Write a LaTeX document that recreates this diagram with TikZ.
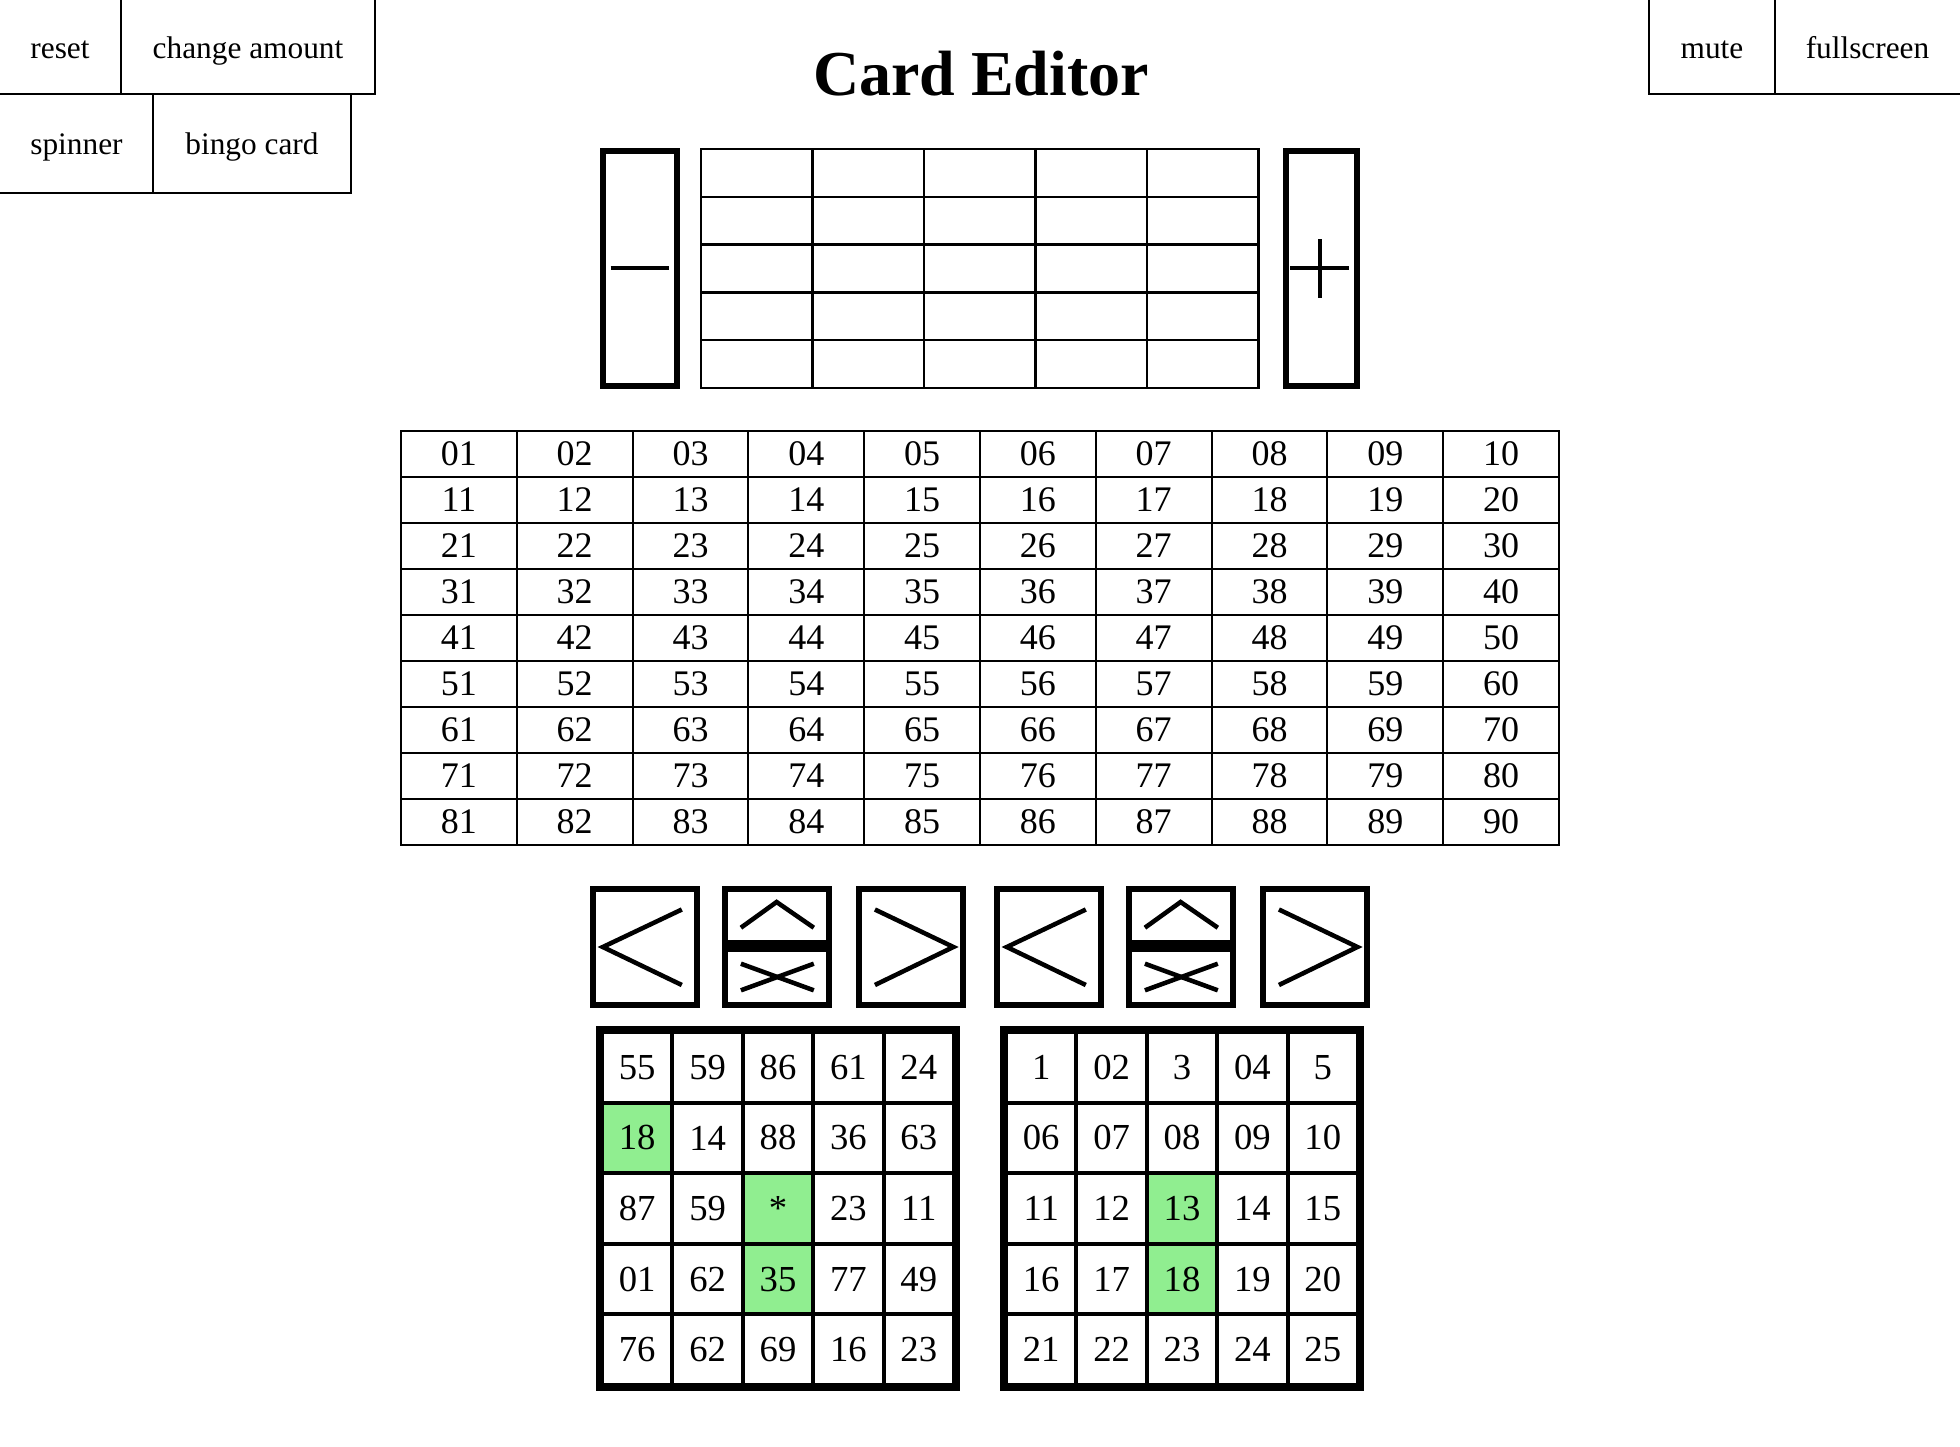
\documentclass[tikz,border=0pt]{standalone}
\usepackage{fontspec}
\setmainfont{Liberation Serif}
\usetikzlibrary{calc}
\definecolor{cellgreen}{HTML}{90EE90}
\tikzset{
    btnline/.style={line width=1.5pt},
    btnlabel/.style={anchor=base, inner sep=0pt, font=\fontsize{23.5pt}{28pt}\selectfont},
    numcell/.style={draw, line width=1.5pt, inner sep=0pt, minimum width=86.85pt, minimum height=34.5pt, font=\fontsize{27pt}{32pt}\selectfont},
    cardtext/.style={inner sep=0pt, font=\fontsize{27.5pt}{32pt}\selectfont},
    thickbox/.style={line width=4.5pt},
    sign/.style={line width=3.4pt}
}

\begin{document}
\begin{tikzpicture}[x=0.75pt,y=-0.75pt]
            \useasboundingbox (0,0) rectangle (1960,1446);
            % top buttons
            \draw[btnline] (-3,-3) rectangle (121,94);
            \draw[btnline] (121,-3) rectangle (375,94);
            \draw[btnline] (-3,94) rectangle (153,193);
            \draw[btnline] (153,94) rectangle (351,193);
            \draw[btnline] (1649,-3) rectangle (1775,94);
            \draw[btnline] (1775,-3) rectangle (1963,94);
            \node[btnlabel] (reset) at (60,58) {reset};
            \node[btnlabel] (amount) at (248,58) {change amount};
            \node[btnlabel] (spinner) at (76.5,154) {spinner};
            \node[btnlabel] (bingo) at (252,154) {bingo card};
            \node[btnlabel] (mute) at (1712,58) {mute};
            \node[btnlabel] (full) at (1867.5,58) {fullscreen};
            \node[anchor=base, inner sep=0pt, font=\fontsize{48pt}{56pt}\selectfont\bfseries] (title) at (981,95) {Card Editor};
            % minus, layout grid, plus
            \draw[thickbox] (603.4,151.3) rectangle (676.5,386);
            \draw[sign] (610.6,268) -- (669.3,268);
            \foreach \r in {0,...,4}
                \foreach \c in {0,...,4}
                    \draw[line width=1.8pt] (701+\c*111.5,149+\r*47.8) rectangle ++(111.5,47.8);
            \draw[thickbox] (1285.6,151.3) rectangle (1356.6,386);
            \draw[sign] (1290,268) -- (1349.4,268);
            \draw[sign, line width=3pt] (1319.8,239) -- (1319.8,298);
            % numbers 01 to 90
            \foreach \r in {0,...,8}
                \foreach \c in {0,...,9} {
                    \pgfmathtruncatemacro{\v}{\r*10+\c+1}
                    \node[numcell] (n\v) at (401+\c*115.8+57.9,431+\r*46+23) {\ifnum\v<10 0\fi\v};
                }
            % arrow buttons
            \foreach \x/\kind in {590/l,722/m,856/r,994/l,1126/m,1260/r} {
                \coordinate (b\x) at (\x,886);
                \draw[thickbox] ($(b\x)+(3,3)$) rectangle ($(b\x)+(107,119)$);
                \if l\kind
                    \draw[sign] ($(b\x)+(91.8,23.5)$) -- ($(b\x)+(12.8,61)$) -- ($(b\x)+(91.8,99)$);
                \fi
                \if r\kind
                    \draw[sign] ($(b\x)+(18.9,23.5)$) -- ($(b\x)+(97.4,61)$) -- ($(b\x)+(18.9,99)$);
                \fi
                \if m\kind
                    \draw[sign] ($(b\x)+(18.9,41.7)$) -- ($(b\x)+(54.6,16)$) -- ($(b\x)+(91.8,41.7)$);
                    \fill ($(b\x)+(0,54)$) rectangle ($(b\x)+(110,66)$);
                    \draw[sign] ($(b\x)+(18.9,77.7)$) -- ($(b\x)+(91.8,104.3)$);
                    \draw[sign] ($(b\x)+(18.9,104.3)$) -- ($(b\x)+(91.8,77.7)$);
                \fi
            }
            % bingo cards
            \fill (596,1026) rectangle (960,1391);
            \fill (1000,1026) rectangle (1364,1391);
            \foreach \x in {604,1008}
                \foreach \r in {0,...,4}
                    \foreach \c in {0,...,4}
                        \fill[white] (\x+\c*70.4,1034+\r*70.6) rectangle ++(66.4,66.6);
            \foreach \x/\r/\c in {604/1/0,604/2/2,604/3/2,1008/2/2,1008/3/2}
                \fill[cellgreen] (\x+\c*70.4,1034+\r*70.6) rectangle ++(66.4,66.6);
            \foreach \row [count=\r from 0] in {{55,59,86,61,24},{18,14,88,36,63},{87,59,*,23,11},{01,62,35,77,49},{76,62,69,16,23}}
                \foreach \v [count=\c from 0] in \row
                    \node[cardtext] (a\r\c) at (604+\c*70.4+33.2,1034+\r*70.6+33.3) {\v};
            \foreach \row [count=\r from 0] in {{1,02,3,04,5},{06,07,08,09,10},{11,12,13,14,15},{16,17,18,19,20},{21,22,23,24,25}}
                \foreach \v [count=\c from 0] in \row
                    \node[cardtext] (b\r\c) at (1008+\c*70.4+33.2,1034+\r*70.6+33.3) {\v};
        \end{tikzpicture}
\end{document}
